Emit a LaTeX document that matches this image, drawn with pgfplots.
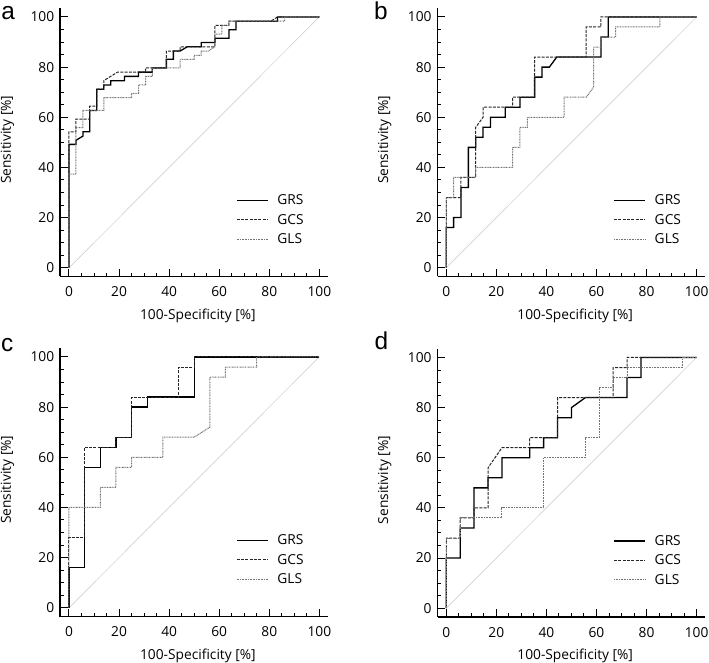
\documentclass[border=0pt]{standalone}
\usepackage{fontspec}
\setmainfont{Open Sans}
\newfontfamily\panelfont{Liberation Sans}
\usepackage{pgfplots}
\pgfplotsset{compat=1.18}

\pgfplotsset{
  roc/.style={
    scale only axis, width=267.9bp, height=268.3bp,
    xmin=-3.5, xmax=103.5, ymin=-3.5, ymax=103.5,
    axis x line=bottom, axis y line=left,
    axis line style={-, line width=1.5bp},
    xtick={0,20,...,100}, ytick={0,20,...,100},
    minor tick num=3, tick align=inside,
    major tick length=7.5bp, minor tick length=3.5bp,
    tick style={black, line width=1bp},
    tick label style={font=\fontsize{13.8}{16}\selectfont},
    /pgf/number format/assume math mode=true,
    xticklabel style={anchor=base, yshift=-20.2bp},
    yticklabel style={xshift=-2.5bp},
    xlabel={100-Specificity [\%]}, ylabel={Sensitivity [\%]},
    label style={font=\fontsize{13.8}{16}\selectfont},
    xlabel style={at={(axis description cs:0.514,-0.1595)}, anchor=base},
    ylabel style={at={(axis description cs:-0.1967,0.51)}, anchor=center},
    legend style={draw=none, fill=none, inner sep=0pt, row sep=4bp,
      at={(axis description cs:0.656,0.313)}, anchor=north west,
      font=\fontsize{13.8}{16}\selectfont},
    legend cell align=left,
    legend image code/.code={\draw[#1] (0bp,0bp) -- (31bp,0bp); \path (38bp,0bp);},
  },
  grs/.style={black, line width=1.3bp},
  gcs/.style={black!85, line width=1bp, dash pattern=on 3bp off 1.3bp},
  gls/.style={black!55, line width=1bp, dash pattern=on 0.9bp off 0.7bp},
  diag/.style={black!22, line width=0.5bp, forget plot},
}

\begin{document}
\begin{tikzpicture}
\path[use as bounding box] (0,0) rectangle (709bp,663bp);

% a
\begin{axis}[roc, at={(60.2bp,386.5bp)}, anchor=south west]
\addplot[diag] coordinates {(0,0) (100,100)};
\addplot[grs] coordinates {(0,0) (0,49.2) (2.8,49.2) (2.8,50.8) (5.6,52.5) (5.6,54.2) (8.3,54.2) (8.3,62.7) (11.1,62.7) (11.1,71.2) (13.9,71.2) (13.9,72.9) (16.7,72.9) (16.7,74.6) (22.2,74.6) (22.2,76.3) (27.8,76.3) (27.8,78) (33.3,78) (33.3,79.7) (38.9,79.7) (38.9,83.1) (41.7,83.1) (41.7,86.4) (44.4,86.4) (47.2,88.1) (52.8,88.1) (52.8,89.8) (58.3,89.8) (58.3,91.5) (63.9,91.5) (63.9,94.9) (66.7,94.9) (66.7,98.3) (83.3,98.3) (83.3,100) (100,100)};
\addplot[gcs] coordinates {(0,0) (0,54.2) (2.8,54.2) (2.8,59.3) (8.3,59.3) (8.3,64.4) (11.1,64.4) (11.1,71.2) (13.9,71.2) (13.9,74.6) (19.4,78) (30.6,78) (30.6,79.7) (38.9,79.7) (38.9,86.4) (44.4,86.4) (44.4,88.1) (58.3,88.1) (58.3,96.6) (63.9,96.6) (63.9,98.3) (80.6,98.3) (83.3,100) (100,100)};
\addplot[gls] coordinates {(0,0) (0,37.3) (2.8,37.3) (2.8,55.9) (5.6,55.9) (5.6,62.7) (13.9,62.7) (13.9,67.8) (25,67.8) (25,69.5) (27.8,69.5) (27.8,72.9) (30.6,72.9) (30.6,76.3) (33.3,76.3) (33.3,79.7) (44.4,79.7) (44.4,83.1) (50,83.1) (50,84.7) (52.8,84.7) (52.8,86.4) (55.6,86.4) (58.3,88.1) (58.3,93.2) (61.1,93.2) (61.1,96.6) (63.9,96.6) (63.9,98.3) (86.1,98.3) (86.1,100) (100,100)};
\legend{GRS, GCS, GLS}
\end{axis}

% b
\begin{axis}[roc, at={(437.5bp,386.5bp)}, anchor=south west]
\addplot[diag] coordinates {(0,0) (100,100)};
\addplot[grs] coordinates {(0,0) (0,16) (2.94,16) (2.94,20) (5.88,20) (5.88,32) (8.82,32) (8.82,48) (11.76,48) (11.76,52) (14.71,52) (14.71,56) (17.65,56) (17.65,60) (23.53,60) (23.53,64) (29.41,64) (29.41,68) (35.29,68) (35.29,76) (38.24,76) (38.24,80) (41.18,80) (44.12,84) (61.76,84) (61.76,92) (64.71,92) (64.71,100) (100,100)};
\addplot[gcs] coordinates {(0,0) (0,28) (5.88,28) (5.88,36) (11.76,36) (11.76,56) (14.71,60) (14.71,64) (26.47,64) (26.47,68) (35.29,68) (35.29,84) (55.88,84) (55.88,96) (61.76,96) (61.76,100) (100,100)};
\addplot[gls] coordinates {(0,0) (0,28) (2.94,28) (2.94,36) (11.76,36) (11.76,40) (26.47,40) (26.47,48) (29.41,48) (29.41,56) (32.35,56) (32.35,60) (47.06,60) (47.06,68) (55.88,68) (58.82,72) (58.82,88) (61.76,88) (61.76,92) (67.65,92) (67.65,96) (85.29,96) (85.29,100) (100,100)};
\legend{GRS, GCS, GLS}
\end{axis}

% c
\begin{axis}[roc, at={(60.2bp,46.5bp)}, anchor=south west]
\addplot[diag] coordinates {(0,0) (100,100)};
\addplot[grs] coordinates {(0,0) (0,16) (6.25,16) (6.25,56) (12.5,56) (12.5,64) (18.75,64) (18.75,68) (25,68) (25,80) (31.25,80) (31.25,84) (50,84) (50,100) (100,100)};
\addplot[gcs] coordinates {(0,0) (0,28) (6.25,28) (6.25,64) (18.75,64) (18.75,68) (25,68) (25,84) (43.75,84) (43.75,96) (50,96) (50,100) (100,100)};
\addplot[gls] coordinates {(0,0) (0,40) (12.5,40) (12.5,48) (18.75,48) (18.75,56) (25,56) (25,60) (37.5,60) (37.5,68) (50,68) (56.25,72) (56.25,92) (62.5,92) (62.5,96) (75,96) (75,100) (100,100)};
\legend{GRS, GCS, GLS}
\end{axis}

% d
\begin{axis}[roc, at={(437.5bp,46bp)}, anchor=south west]
\addplot[diag] coordinates {(0,0) (100,100)};
\addplot[grs] coordinates {(0,0) (0,20) (5.56,20) (5.56,32) (11.11,32) (11.11,48) (16.67,48) (16.67,52) (22.22,52) (22.22,60) (33.33,60) (33.33,64) (38.89,64) (38.89,68) (44.44,68) (44.44,76) (50,76) (50,80) (55.56,84) (72.22,84) (72.22,92) (77.78,92) (77.78,100) (100,100)};
\addplot[gcs] coordinates {(0,0) (0,28) (5.56,28) (5.56,36) (11.11,36) (11.11,40) (16.67,40) (16.67,56) (22.22,64) (33.33,64) (33.33,68) (44.44,68) (44.44,84) (66.67,84) (66.67,96) (72.22,96) (72.22,100) (100,100)};
\addplot[gls] coordinates {(0,0) (0,28) (5.56,28) (5.56,36) (22.22,36) (22.22,40) (38.89,40) (38.89,60) (55.56,60) (55.56,68) (61.11,68) (61.11,88) (66.67,88) (66.67,92) (72.22,92) (72.22,96) (94.44,96) (94.44,100) (100,100)};
\legend{GRS, GCS, GLS}
\end{axis}

\begin{scope}[every node/.style={anchor=base west, inner sep=0pt, font=\panelfont\fontsize{24.5}{26}\selectfont}]
\node at (1.2bp,643.5bp) {a};
\node at (374bp,643bp) {b};
\node at (1bp,311bp) {c};
\node at (374.5bp,313bp) {d};
\end{scope}
\end{tikzpicture}
\end{document}
